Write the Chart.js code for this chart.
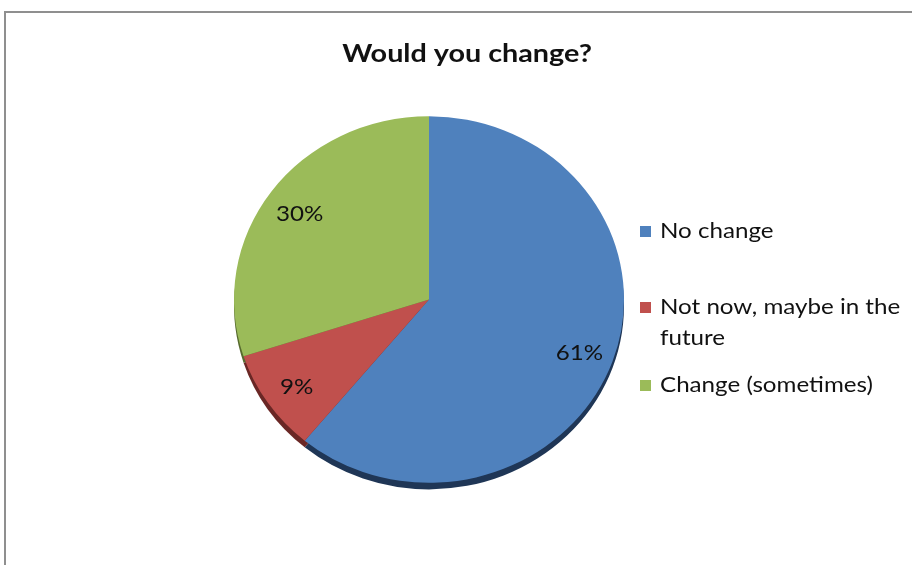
<!DOCTYPE html>
<html>
<head>
<meta charset="utf-8">
<title>Would you change?</title>
<script src="https://cdn.jsdelivr.net/npm/chart.js@4"></script>
<style>
  body { margin: 0; background: #fff; overflow: hidden; }
  #frame {
    position: absolute; left: 4px; top: 11px; width: 1000px; height: 1000px;
    border-left: 2px solid #8f8f8f; border-top: 2px solid #8f8f8f;
  }
  #chart { position: absolute; left: 0; top: 0; }
</style>
</head>
<body>
<div id="frame"></div>
<canvas id="chart" width="912" height="565"></canvas>
<script>
// Chart data
const chartTitle = 'Would you change?';
const categories = ['No change', 'Not now, maybe in the future', 'Change (sometimes)'];
const shares = [61, 9, 30];

// Styles
const sliceColors = ['#4F81BD', '#C0504D', '#9BBB59'];
const shadeColors = ['#1f3656', '#6a2725', '#566a2e'];
const FONT = "Lato, 'Open Sans', sans-serif";
const SQUASH = 0.94;    // pie is drawn slightly tilted (ellipse)
const DEPTH = 7;        // thickness of the dark rim under the pie
const STRETCH = 1.15;   // the original text is drawn a bit wide

// draw text stretched horizontally around its anchor
function wideText(ctx, text, x, y) {
  ctx.save();
  ctx.translate(x, y);
  ctx.scale(STRETCH, 1);
  ctx.fillText(text, 0, 0);
  ctx.restore();
}

/**
 * Squash the pie into an ellipse and draw a dark rim under it
 */
const tiltedPie = {
  id: 'tiltedPie',
  beforeDatasetsDraw(chart) {
    const ctx = chart.ctx;
    const arcs = chart.getDatasetMeta(0).data;
    const { x, y } = arcs[0];
    ctx.save();
    ctx.translate(x, y);
    ctx.scale(1, SQUASH);
    ctx.translate(-x, -y);
    // rim
    arcs.forEach((a, i) => {
      ctx.beginPath();
      ctx.moveTo(a.x, a.y + DEPTH);
      ctx.arc(a.x, a.y + DEPTH, a.outerRadius, a.startAngle, a.endAngle);
      ctx.closePath();
      ctx.fillStyle = shadeColors[i];
      ctx.fill();
    });
  },
  afterDatasetsDraw(chart) {
    chart.ctx.restore();
  }
};

/**
 * Title, percentage labels and the wrapped legend on the right
 */
const annotations = {
  id: 'annotations',
  afterDraw(chart) {
    const ctx = chart.ctx;
    const arcs = chart.getDatasetMeta(0).data;
    const values = chart.data.datasets[0].data;
    const total = values.reduce((a, b) => a + b, 0);

    ctx.save();
    ctx.fillStyle = '#111';
    ctx.textAlign = 'center';
    ctx.textBaseline = 'middle';

    // title
    ctx.font = `bold 25px ${FONT}`;
    wideText(ctx, chartTitle, 467, 54);

    // percentage labels
    ctx.font = `21px ${FONT}`;
    arcs.forEach((a, i) => {
      const mid = (a.startAngle + a.endAngle) / 2;
      const r = a.outerRadius * 0.82;
      const px = a.x + Math.cos(mid) * r;
      const py = a.y + Math.sin(mid) * r * SQUASH + 3;
      wideText(ctx, Math.round(values[i] / total * 100) + '%', px, py);
    });

    // legend
    const legendRows = [231, 307, 385];
    const lineHeight = 31;
    const maxWidth = 245 / STRETCH;
    ctx.font = `21px ${FONT}`;
    ctx.textAlign = 'left';
    chart.data.labels.forEach((label, i) => {
      // wrap label to fit
      const words = label.split(' ');
      const lines = [];
      let line = '';
      words.forEach(w => {
        const test = line ? line + ' ' + w : w;
        if (ctx.measureText(test).width > maxWidth && line) {
          lines.push(line);
          line = w;
        } else {
          line = test;
        }
      });
      lines.push(line);

      const y = legendRows[i];
      ctx.fillStyle = sliceColors[i];
      ctx.fillRect(640, y - 5, 11, 11);
      ctx.fillStyle = '#111';
      lines.forEach((l, j) => wideText(ctx, l, 660, y + j * lineHeight));
    });
    ctx.restore();
  }
};

const ctx = document.getElementById('chart').getContext('2d');

new Chart(ctx, {
  type: 'pie',
  data: {
    labels: categories,
    datasets: [{
      data: shares,
      backgroundColor: sliceColors,
      borderWidth: 0
    }]
  },
  options: {
    responsive: false,
    animation: false,
    events: [],
    radius: 195,
    layout: {
      padding: { top: 104, bottom: 70, left: 40, right: 94 }
    },
    plugins: {
      legend: { display: false },
      title: { display: false },
      tooltip: { enabled: false }
    }
  },
  plugins: [tiltedPie, annotations]
});
</script>
</body>
</html>
